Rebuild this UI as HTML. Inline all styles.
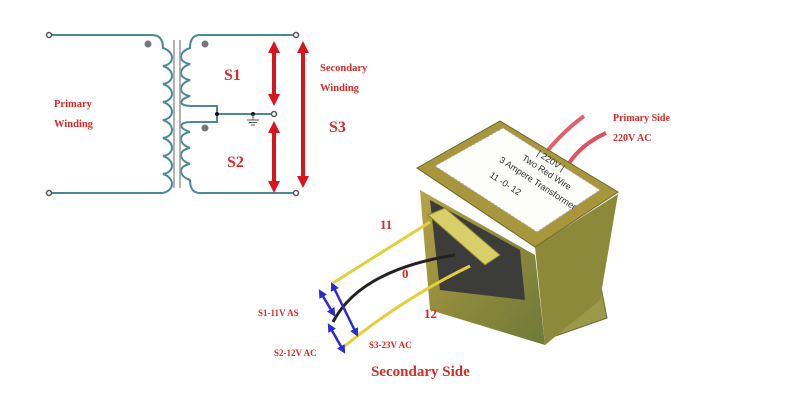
<!DOCTYPE html>
<html><head><meta charset="utf-8"><style>
html,body{margin:0;padding:0;background:#fff;}
svg{display:block;}
text{font-family:"Liberation Serif",serif;font-weight:bold;fill:#d42a2a;}
.lb{fill:#333;font-weight:normal;font-family:"Liberation Sans",sans-serif;}
</style></head><body>
<svg width="800" height="408" viewBox="0 0 800 408" xmlns="http://www.w3.org/2000/svg">
<defs>
<marker id="ra" viewBox="0 0 10 10" refX="5" refY="5" markerWidth="3" markerHeight="3" orient="auto-start-reverse"><path d="M0,0 L10,5 L0,10 z" fill="#d8141c"/></marker>
<marker id="ba" viewBox="0 0 10 10" refX="5" refY="5" markerWidth="3.5" markerHeight="3.5" orient="auto-start-reverse"><path d="M0,0 L10,5 L0,10 z" fill="#2a2ad0"/></marker>
<linearGradient id="gold" x1="0" y1="0" x2="1" y2="1"><stop offset="0" stop-color="#b7a44a"/><stop offset="0.5" stop-color="#8f8a3a"/><stop offset="1" stop-color="#6e7a3a"/></linearGradient>
</defs>
<g fill="none" stroke="#4a8a96" stroke-width="2">
<path d="M49,35 H152 Q163,35 163,48 C175,52 175,64 163,66 C175,70 175,82 163,84 C175,88 175,100 163,102 C175,106 175,118 163,120 C175,124 175,136 163,138 C175,142 175,154 163,156 C175,160 175,172 163,174 C175,178 175,190 163,193 H49"/>
<path d="M296,35 H200 Q190,35 190,48 C178,52 178,62 190,64 C178,68 178,78 190,80 C178,84 178,94 190,96 C178,100 178,106 192,106 H217 V114 H274"/>
<path d="M296,193 H200 Q190,193 190,180 C178,176 178,166 190,164 C178,160 178,150 190,148 C178,144 178,134 190,132 C178,128 178,122 192,122 H217 V114"/>
</g>
<line x1="174" y1="40" x2="174" y2="188" stroke="#999" stroke-width="1.5"/>
<line x1="180" y1="40" x2="180" y2="188" stroke="#999" stroke-width="1.5"/>
<g fill="#fff" stroke="#555" stroke-width="1.5">
<circle cx="49" cy="35" r="2.5"/><circle cx="49" cy="193" r="2.5"/>
<circle cx="296" cy="35" r="2.5"/><circle cx="296" cy="193" r="2.5"/>
<circle cx="274" cy="114" r="2.5"/>
</g>
<g fill="#777"><circle cx="148" cy="44" r="3.5"/><circle cx="205" cy="44" r="3.5"/><circle cx="205" cy="128" r="3.5"/></g>
<g fill="#111"><circle cx="217" cy="114" r="2"/><circle cx="253" cy="114" r="2"/></g>
<g stroke="#555" stroke-width="1"><line x1="253" y1="114" x2="253" y2="120"/><line x1="247" y1="120" x2="259" y2="120"/><line x1="249" y1="122.5" x2="257" y2="122.5"/><line x1="251" y1="125" x2="255" y2="125"/></g>
<g stroke="#d8141c" stroke-width="4">
<line x1="274" y1="47" x2="274" y2="100" marker-start="url(#ra)" marker-end="url(#ra)"/>
<line x1="274" y1="127" x2="274" y2="187" marker-start="url(#ra)" marker-end="url(#ra)"/>
<line x1="303" y1="47" x2="303" y2="182" marker-start="url(#ra)" marker-end="url(#ra)"/>
</g>
<text x="54" y="107" font-size="10.5">Primary</text>
<text x="54" y="127" font-size="10.5">Winding</text>
<text x="320" y="71" font-size="10.5">Secondary</text>
<text x="320" y="91" font-size="10.5">Winding</text>
<text x="224" y="80" font-size="16">S1</text>
<text x="227" y="167" font-size="16">S2</text>
<text x="329" y="132" font-size="16">S3</text>

<path d="M548,150 Q565,130 584,116" stroke="#e0606a" stroke-width="4" fill="none"/>
<path d="M568,165 Q580,145 606,133" stroke="#e05060" stroke-width="4" fill="none"/>
<path d="M545,300 L600,282 L607,318 L550,338 Z" fill="#9a9a4a" stroke="#6b6b30"/>
<ellipse cx="583" cy="305" rx="7" ry="3" fill="#fff" transform="rotate(-20 583 305)"/>
<path d="M420,190 L535,255 L545,345 L430,310 Z" fill="url(#gold)"/>
<path d="M535,247 L618,194 L600,300 L545,345 Z" fill="#8c8a3a"/>
<path d="M430,200 L520,250 L525,300 L440,290 Z" fill="#3c3c3a"/>
<path d="M417,168 L500,121 L618,192 L535,247 Z" fill="#a7963c" stroke="#6e6a2a"/>
<path d="M435,166 L503,128 L600,190 L537,232 Z" fill="#fdfdfb" stroke="#aaa" stroke-dasharray="2,2"/>
<g transform="rotate(33 520 180)">
<text x="520" y="150" font-size="9" class="lb">| 220V |</text>
<text x="510" y="162" font-size="9" class="lb">Two Red Wire</text>
<text x="492" y="176" font-size="9" class="lb">3 Ampere Transformer</text>
<text x="492" y="194" font-size="9" class="lb">11   -0-   12</text>
</g>
<path d="M428,215 L445,208 L500,255 L485,265 Z" fill="#d8cf6a" stroke="#8a8030"/>
<path d="M333,283 L430,222" stroke="#e3cf3a" stroke-width="3" fill="none"/>
<path d="M333,322 Q360,270 455,255" stroke="#222" stroke-width="3" fill="none"/>
<path d="M340,350 Q400,300 470,266" stroke="#e3cf3a" stroke-width="3" fill="none"/>
<g stroke="#2a2ad0" stroke-width="2.5">
<line x1="321" y1="293" x2="333" y2="313" marker-start="url(#ba)" marker-end="url(#ba)"/>
<line x1="333" y1="286" x2="356" y2="333" marker-start="url(#ba)" marker-end="url(#ba)"/>
<line x1="330" y1="327" x2="343" y2="350" marker-start="url(#ba)" marker-end="url(#ba)"/>
</g>
<text x="380" y="229" font-size="13">11</text>
<text x="402" y="278" font-size="13">0</text>
<text x="424" y="318" font-size="13">12</text>
<text x="258" y="316" font-size="9">S1-11V AS</text>
<text x="274" y="356" font-size="9">S2-12V AC</text>
<text x="369" y="348" font-size="9">S3-23V AC</text>
<text x="371" y="376" font-size="15">Secondary Side</text>
<text x="613" y="121" font-size="10">Primary Side</text>
<text x="613" y="141" font-size="10">220V AC</text>
</svg>
</body></html>
